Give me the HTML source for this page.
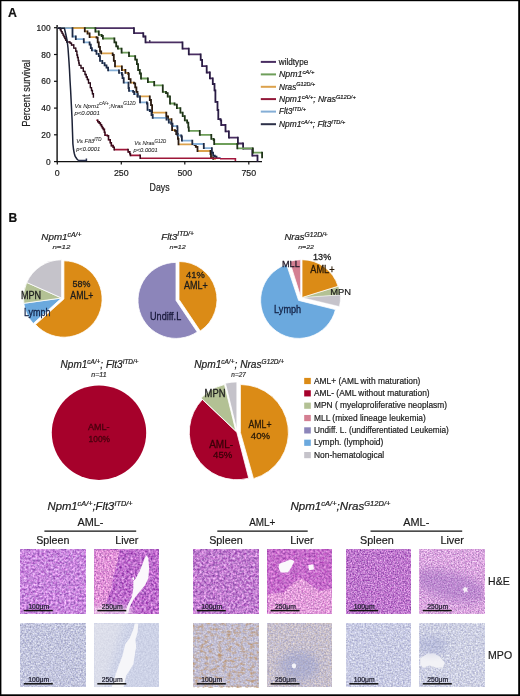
<!DOCTYPE html><html><head><meta charset="utf-8"><style>html,body{margin:0;padding:0;background:#fff;width:520px;height:696px;overflow:hidden}svg{display:block;will-change:transform}</style></head><body><svg width="520" height="696" viewBox="0 0 520 696" font-family="'Liberation Sans', sans-serif"><defs><filter id="f1" x="0" y="0" width="1" height="1" color-interpolation-filters="sRGB"><feTurbulence type="fractalNoise" baseFrequency="0.45" numOctaves="2" seed="11"/><feColorMatrix type="matrix" values="0.67 0.16 0 0 0.37 0.78 -0.08 0 0 0.18 0.51 0.08 0 0 0.57 0 0 0 0 1"/></filter><filter id="f2" x="0" y="0" width="1" height="1" color-interpolation-filters="sRGB"><feTurbulence type="fractalNoise" baseFrequency="0.45" numOctaves="2" seed="12"/><feColorMatrix type="matrix" values="0.67 0.16 0 0 0.33 0.78 -0.08 0 0 0.08 0.51 0.08 0 0 0.51 0 0 0 0 1"/></filter><filter id="f3" x="0" y="0" width="1" height="1" color-interpolation-filters="sRGB"><feTurbulence type="fractalNoise" baseFrequency="0.6" numOctaves="2" seed="13"/><feColorMatrix type="matrix" values="0.63 0.16 0 0 0.48 0.75 -0.08 0 0 0.24 0.47 0.08 0 0 0.57 0 0 0 0 1"/></filter><clipPath id="c4"><polygon points="94.3,549.8 119.5,549.8 117.4,562.3 113.1,576.7 111.6,588.3 107.3,599.8 104.4,613.8 94.3,613.8"/></clipPath><filter id="blur2" x="-50%" y="-50%" width="200%" height="200%"><feGaussianBlur stdDeviation="2"/></filter><clipPath id="ct2"><rect x="94.3" y="549.8" width="64.3" height="64"/></clipPath><filter id="f5" x="0" y="0" width="1" height="1" color-interpolation-filters="sRGB"><feTurbulence type="fractalNoise" baseFrequency="0.45" numOctaves="2" seed="14"/><feColorMatrix type="matrix" values="0.67 0.16 0 0 0.34 0.78 -0.08 0 0 0.14 0.51 0.08 0 0 0.52 0 0 0 0 1"/></filter><filter id="f6" x="0" y="0" width="1" height="1" color-interpolation-filters="sRGB"><feTurbulence type="fractalNoise" baseFrequency="0.45" numOctaves="2" seed="15"/><feColorMatrix type="matrix" values="0.51 0.16 0 0 0.44 0.61 -0.08 0 0 0.16 0.39 0.08 0 0 0.56 0 0 0 0 1"/></filter><filter id="f7" x="0" y="0" width="1" height="1" color-interpolation-filters="sRGB"><feTurbulence type="fractalNoise" baseFrequency="0.6" numOctaves="2" seed="16"/><feColorMatrix type="matrix" values="0.55 0.16 0 0 0.53 0.67 -0.08 0 0 0.32 0.43 0.08 0 0 0.6 0 0 0 0 1"/></filter><clipPath id="c8"><polygon points="267.8,594 283.6,592.6 293.7,582.5 302.4,578.2 309.6,584 319.7,591.2 332.3,588.3 332.3,613.8 267.8,613.8"/></clipPath><filter id="f9" x="0" y="0" width="1" height="1" color-interpolation-filters="sRGB"><feTurbulence type="fractalNoise" baseFrequency="0.7" numOctaves="2" seed="17"/><feColorMatrix type="matrix" values="0.67 0.16 0 0 0.33 0.78 -0.08 0 0 0.12 0.51 0.08 0 0 0.51 0 0 0 0 1"/></filter><filter id="f10" x="0" y="0" width="1" height="1" color-interpolation-filters="sRGB"><feTurbulence type="fractalNoise" baseFrequency="0.7" numOctaves="2" seed="18"/><feColorMatrix type="matrix" values="0.55 0.16 0 0 0.5 0.67 -0.08 0 0 0.36 0.43 0.08 0 0 0.62 0 0 0 0 1"/></filter><filter id="blur3" x="-50%" y="-50%" width="200%" height="200%"><feGaussianBlur stdDeviation="4"/></filter><clipPath id="ct8"><rect x="419.8" y="549.8" width="64.3" height="64"/></clipPath><filter id="f11" x="0" y="0" width="1" height="1" color-interpolation-filters="sRGB"><feTurbulence type="fractalNoise" baseFrequency="0.6" numOctaves="2" seed="21"/><feColorMatrix type="matrix" values="0.49 0.08 0 0 0.48 0.49 0.08 0 0 0.49 0.36 -0.04 0 0 0.71 0 0 0 0 1"/></filter><filter id="f12" x="0" y="0" width="1" height="1" color-interpolation-filters="sRGB"><feTurbulence type="fractalNoise" baseFrequency="0.6" numOctaves="2" seed="22"/><feColorMatrix type="matrix" values="0.17 0 0 0 0.72 0.17 0 0 0 0.74 0.13 0 0 0 0.84 0 0 0 0 1"/></filter><linearGradient id="g4" x1="0" y1="0" x2="1" y2="0.3"><stop offset="0" stop-color="#f2f0f0" stop-opacity="0.45"/><stop offset="0.35" stop-color="#f2f0f0" stop-opacity="0.35"/><stop offset="0.5" stop-color="#f2f0f0" stop-opacity="0"/></linearGradient><filter id="f13" x="0" y="0" width="1" height="1" color-interpolation-filters="sRGB"><feTurbulence type="fractalNoise" baseFrequency="0.6" numOctaves="2" seed="23"/><feColorMatrix type="matrix" values="0.31 0.08 0 0 0.57 0.31 0.08 0 0 0.56 0.24 -0.04 0 0 0.74 0 0 0 0 1"/></filter><filter id="brown5" x="0" y="0" width="1" height="1" color-interpolation-filters="sRGB"><feTurbulence type="fractalNoise" baseFrequency="0.22 0.35" numOctaves="3" seed="41"/><feColorMatrix type="matrix" values="0 0 0 0 0.74  0 0 0 0 0.58  0 0 0 0 0.42  0 2.2 0 0 -0.98"/></filter><filter id="f14" x="0" y="0" width="1" height="1" color-interpolation-filters="sRGB"><feTurbulence type="fractalNoise" baseFrequency="0.6" numOctaves="2" seed="24"/><feColorMatrix type="matrix" values="0.36 0.16 0 0 0.52 0.36 0.08 0 0 0.53 0.28 -0.16 0 0 0.74 0 0 0 0 1"/></filter><clipPath id="ct6b"><rect x="267.6" y="623.4" width="64.3" height="64"/></clipPath><filter id="f15" x="0" y="0" width="1" height="1" color-interpolation-filters="sRGB"><feTurbulence type="fractalNoise" baseFrequency="0.6" numOctaves="2" seed="25"/><feColorMatrix type="matrix" values="0.41 0.08 0 0 0.54 0.41 0.08 0 0 0.55 0.3 -0.04 0 0 0.76 0 0 0 0 1"/></filter><filter id="f16" x="0" y="0" width="1" height="1" color-interpolation-filters="sRGB"><feTurbulence type="fractalNoise" baseFrequency="0.6" numOctaves="2" seed="26"/><feColorMatrix type="matrix" values="0.41 0.08 0 0 0.56 0.41 0.08 0 0 0.57 0.3 -0.04 0 0 0.76 0 0 0 0 1"/></filter><filter id="blur05" x="-20%" y="-20%" width="140%" height="140%"><feGaussianBlur stdDeviation="0.6"/></filter><clipPath id="ct8b"><rect x="419.8" y="623.4" width="64.3" height="64"/></clipPath></defs><text x="8.1" y="16.9" font-size="13" font-weight="bold" fill="#111" stroke="#111" stroke-width="0.2" textLength="8.9" lengthAdjust="spacingAndGlyphs">A</text>
<path d="M57.1 25V161.6H262" fill="none" stroke="#111" stroke-width="1.4"/>
<path d="M54 27.7H57.1" stroke="#111" stroke-width="1.2"/>
<text x="50.6" y="30.8" font-size="8.4" text-anchor="end" fill="#1c1c1c" stroke="#1c1c1c" stroke-width="0.2">100</text>
<path d="M54 54.5H57.1" stroke="#111" stroke-width="1.2"/>
<text x="50.6" y="57.6" font-size="8.4" text-anchor="end" fill="#1c1c1c" stroke="#1c1c1c" stroke-width="0.2">80</text>
<path d="M54 81.3H57.1" stroke="#111" stroke-width="1.2"/>
<text x="50.6" y="84.4" font-size="8.4" text-anchor="end" fill="#1c1c1c" stroke="#1c1c1c" stroke-width="0.2">60</text>
<path d="M54 108.1H57.1" stroke="#111" stroke-width="1.2"/>
<text x="50.6" y="111.2" font-size="8.4" text-anchor="end" fill="#1c1c1c" stroke="#1c1c1c" stroke-width="0.2">40</text>
<path d="M54 134.8H57.1" stroke="#111" stroke-width="1.2"/>
<text x="50.6" y="137.9" font-size="8.4" text-anchor="end" fill="#1c1c1c" stroke="#1c1c1c" stroke-width="0.2">20</text>
<path d="M54 161.6H57.1" stroke="#111" stroke-width="1.2"/>
<text x="50.6" y="164.7" font-size="8.4" text-anchor="end" fill="#1c1c1c" stroke="#1c1c1c" stroke-width="0.2">0</text>
<path d="M57.3 161.6V164.6" stroke="#111" stroke-width="1.2"/>
<text x="57.3" y="175.8" font-size="8.8" text-anchor="middle" fill="#1c1c1c" stroke="#1c1c1c" stroke-width="0.2">0</text>
<path d="M121.3 161.6V164.6" stroke="#111" stroke-width="1.2"/>
<text x="121.3" y="175.8" font-size="8.8" text-anchor="middle" fill="#1c1c1c" stroke="#1c1c1c" stroke-width="0.2">250</text>
<path d="M184.8 161.6V164.6" stroke="#111" stroke-width="1.2"/>
<text x="184.8" y="175.8" font-size="8.8" text-anchor="middle" fill="#1c1c1c" stroke="#1c1c1c" stroke-width="0.2">500</text>
<path d="M248.8 161.6V164.6" stroke="#111" stroke-width="1.2"/>
<text x="248.8" y="175.8" font-size="8.8" text-anchor="middle" fill="#1c1c1c" stroke="#1c1c1c" stroke-width="0.2">750</text>
<text x="149.6" y="190.9" font-size="10.8" fill="#1c1c1c" stroke="#1c1c1c" stroke-width="0.2" textLength="20" lengthAdjust="spacingAndGlyphs">Days</text>
<text x="0" y="0" font-size="10.6" fill="#1c1c1c" stroke="#1c1c1c" stroke-width="0.2" textLength="67" lengthAdjust="spacingAndGlyphs" transform="translate(30.4 126.8) rotate(-90)">Percent survival</text>
<path d="M57.3 28.2H134M134 33.1H143.3M143.3 36.5H145.5M145.5 42.3H182.5M182.5 48.6H188.8M188.8 54.4H200.7M200.7 59.8H202.1M202.1 66.2H206.7M206.7 72.5H209.9M209.9 78.3H212.8M212.8 84H214.5M214.5 90.4H215.4M215.4 101.9H217.5M217.5 110H218.3M218.3 119.2H220.6M220.6 120.4H221.2M221.2 125H225.5M225.5 131.3H228.9M228.9 137.7H237.9M237.9 143.5H243.1M243.1 148.7H252.3M252.3 155.6H257.5M257.5 160.8" fill="none" stroke="#4a2e62" stroke-width="1.8"/>
<path d="M134 28.2V33.1M143.3 33.1V36.5M145.5 36.5V42.3M182.5 42.3V48.6M188.8 48.6V54.4M200.7 54.4V59.8M202.1 59.8V66.2M206.7 66.2V72.5M209.9 72.5V78.3M212.8 78.3V84M214.5 84V90.4M215.4 90.4V101.9M217.5 101.9V110M218.3 110V119.2M220.6 119.2V120.4M221.2 120.4V125M225.5 125V131.3M228.9 131.3V137.7M237.9 137.7V143.5M243.1 143.5V148.7M252.3 148.7V155.6M257.5 155.6V160.8" fill="none" stroke="#2a1c44" stroke-width="1.8" stroke-linecap="square"/>
<path d="M149.8 40V42.3" stroke="#2a1c44" stroke-width="1.2"/>
<path d="M57.3 28.2H95.4M95.4 31.5H98.8M98.8 34.8H101.7M101.7 36H102.9M102.9 38.5H114.4M114.4 42.3H116.2M116.2 46.3H117.9M117.9 48.7H121.6M121.6 52.7H129M129 56.2H135.2M135.2 59.6H136.9M136.9 64.2H138.1M138.1 70H139.8M139.8 73.5H141M141 78.5H147.9M147.9 82H154.2M154.2 85.4H162.8M162.8 91.9H166M166 93.1H167.7M167.7 96.5H170M170 103.5H174.6M174.6 104.6H176.9M176.9 108.1H180.4M180.4 112.7H182.7M182.7 116.2H184.8M184.8 120.4H187.1M187.1 122.7H188.3M188.3 127.3H188.8M188.8 130.8H199.8M199.8 134.8H211.3M211.3 138.8H213.7M213.7 140H214.2M214.2 144H237.3M237.3 148.4H252.9M252.9 152.7H262.1M262.1 157.3" fill="none" stroke="#6e9e5a" stroke-width="1.8"/>
<path d="M95.4 28.2V31.5M98.8 31.5V34.8M101.7 34.8V36M102.9 36V38.5M114.4 38.5V42.3M116.2 42.3V46.3M117.9 46.3V48.7M121.6 48.7V52.7M129 52.7V56.2M135.2 56.2V59.6M136.9 59.6V64.2M138.1 64.2V70M139.8 70V73.5M141 73.5V78.5M147.9 78.5V82M154.2 82V85.4M162.8 85.4V91.9M166 91.9V93.1M167.7 93.1V96.5M170 96.5V103.5M174.6 103.5V104.6M176.9 104.6V108.1M180.4 108.1V112.7M182.7 112.7V116.2M184.8 116.2V120.4M187.1 120.4V122.7M188.3 122.7V127.3M188.8 127.3V130.8M199.8 130.8V134.8M211.3 134.8V138.8M213.7 138.8V140M214.2 140V144M237.3 144V148.4M252.9 148.4V152.7M262.1 152.7V157.3" fill="none" stroke="#1f3318" stroke-width="1.8" stroke-linecap="square"/>
<path d="M57.3 28.2H84.8M84.8 31.3H87.5M87.5 33.5H89.6M89.6 37.1H96.5M96.5 37.7H97.7M97.7 42.3H98.8M98.8 46.9H100M100 51.5H101.2M101.2 53.3H112.7M112.7 55H113.8M113.8 60.8H115M115 66.3H121.9M121.9 70H125.4M125.4 72.9H128.3M128.3 74H128.8M128.8 79.2H130.6M130.6 82.7H134M134 83.3H135.2M135.2 87.3H136.4M136.4 91.9H137.5M137.5 96.3H149.8M149.8 100H151M151 105.2H152.1M152.1 112.7H166.3M166.3 116.3H168.1M168.1 119.2H171.5M171.5 123.8H172.1M172.1 130.2H175M175 130.8H176.2M176.2 134.2H177.9M177.9 138.8H178.5M178.5 144.4H194.6M194.6 145.2H195.8M195.8 146.9H197.5M197.5 151H210.5M210.5 154H211M211 157.3H213.2M213.2 158.8H216" fill="none" stroke="#dca24c" stroke-width="1.8"/>
<path d="M84.8 28.2V31.3M87.5 31.3V33.5M89.6 33.5V37.1M96.5 37.1V37.7M97.7 37.7V42.3M98.8 42.3V46.9M100 46.9V51.5M101.2 51.5V53.3M112.7 53.3V55M113.8 55V60.8M115 60.8V66.3M121.9 66.3V70M125.4 70V72.9M128.3 72.9V74M128.8 74V79.2M130.6 79.2V82.7M134 82.7V83.3M135.2 83.3V87.3M136.4 87.3V91.9M137.5 91.9V96.3M149.8 96.3V100M151 100V105.2M152.1 105.2V112.7M166.3 112.7V116.3M168.1 116.3V119.2M171.5 119.2V123.8M172.1 123.8V130.2M175 130.2V130.8M176.2 130.8V134.2M177.9 134.2V138.8M178.5 138.8V144.4M194.6 144.4V145.2M195.8 145.2V146.9M197.5 146.9V151M210.5 151V154M211 154V157.3M213.2 157.3V158.8" fill="none" stroke="#2a1a10" stroke-width="1.8" stroke-linecap="square"/>
<path d="M57.3 28.2H72.5M72.5 36.5H75.8M75.8 39.2H83.8M83.8 42.3H89.6M89.6 44.6H90.8M90.8 48.1H91.9M91.9 50.4H95.4M95.4 51H96.5M96.5 53.8H98.8M98.8 56.2H100M100 60.8H102.3M102.3 63.1H104.6M104.6 65.4H106.5M106.5 67.7H108.1M108.1 70.4H119M119 72.9H121.9M121.9 74.6H122.5M122.5 78.1H123.7M123.7 82.7H128.5M128.5 88H129M129 90.8H133.1M133.1 91.9H134.2M134.2 94.2H137.7M137.7 96.5H140M140 102.3H146.9M146.9 103.5H147.5M147.5 109.8H149.8M149.8 111H151.5M151.5 115H152.7M152.7 117.9H166.5M166.5 119.6H168.8M168.8 122.5H171.2M171.2 123.7H172.5M172.5 126.2H177.3M177.3 127.3H177.5M177.5 135.4H181.3M181.3 136.5H181.9M181.9 140.6H192.3M192.3 144H203.8M203.8 148.1H211.9M211.9 152.7H213.1M213.1 155.6H214.8M214.8 156.7H216.5M216.5 157.9H221" fill="none" stroke="#84aed6" stroke-width="1.8"/>
<path d="M72.5 28.2V36.5M75.8 36.5V39.2M83.8 39.2V42.3M89.6 42.3V44.6M90.8 44.6V48.1M91.9 48.1V50.4M95.4 50.4V51M96.5 51V53.8M98.8 53.8V56.2M100 56.2V60.8M102.3 60.8V63.1M104.6 63.1V65.4M106.5 65.4V67.7M108.1 67.7V70.4M119 70.4V72.9M121.9 72.9V74.6M122.5 74.6V78.1M123.7 78.1V82.7M128.5 82.7V88M129 88V90.8M133.1 90.8V91.9M134.2 91.9V94.2M137.7 94.2V96.5M140 96.5V102.3M146.9 102.3V103.5M147.5 103.5V109.8M149.8 109.8V111M151.5 111V115M152.7 115V117.9M166.5 117.9V119.6M168.8 119.6V122.5M171.2 122.5V123.7M172.5 123.7V126.2M177.3 126.2V127.3M177.5 127.3V135.4M181.3 135.4V136.5M181.9 136.5V140.6M192.3 140.6V144M203.8 144V148.1M211.9 148.1V152.7M213.1 152.7V155.6M214.8 155.6V156.7M216.5 156.7V157.9" fill="none" stroke="#1e2a44" stroke-width="1.8" stroke-linecap="square"/>
<path d="M57.3 28.2H60.23M60.23 29.92H61.16M61.16 31.64H62.09M62.09 33.36H63.02M63.02 35.08H63.95M63.95 36.8H64.88M64.88 38.52H65.81M65.81 40.24H66.74M66.74 41.96H70M70 43.1H71.5M71.5 45H73.8M73.8 48.1H75.8M75.8 51.2H76.9M76.9 55H77.5M77.5 57.5H78.2M78.2 60.5H78.8M78.8 63H79.2M79.2 65.4H81M81 68H83.3M83.3 71.4H85M85 74.5H86.2M86.2 77H87.3M87.3 79.5H88.5M88.5 83H90.3M90.3 87.6H91.5M91.5 90.5H92.4M92.4 93.7H93.4M93.4 97.1" fill="none" stroke="#3a0f22" stroke-width="1.4"/>
<path d="M60.23 28.2V29.92M61.16 29.92V31.64M62.09 31.64V33.36M63.02 33.36V35.08M63.95 35.08V36.8M64.88 36.8V38.52M65.81 38.52V40.24M66.74 40.24V41.96M70 41.96V43.1M71.5 43.1V45M73.8 45V48.1M75.8 48.1V51.2M76.9 51.2V55M77.5 55V57.5M78.2 57.5V60.5M78.8 60.5V63M79.2 63V65.4M81 65.4V68M83.3 68V71.4M85 71.4V74.5M86.2 74.5V77M87.3 77V79.5M88.5 79.5V83M90.3 83V87.6M91.5 87.6V90.5M92.4 90.5V93.7M93.4 93.7V97.1" fill="none" stroke="#2a0a18" stroke-width="1.4" stroke-linecap="square"/>
<path d="M96.3 120.2H97.8M97.8 121.7H99.2M99.2 123.1H100.4M100.4 124.8H101.5M101.5 126.5H102.4M102.4 128H103.3M103.3 129.4H104.4M104.4 132.3H105M105 135.2H107.3M107.3 135.8H108.5M108.5 139.8H110.2M110.2 142.7H111.3M111.3 145.6H113.1M113.1 147.3H114.2M114.2 149.6H128.1M128.1 151.9H129.8M129.8 153.7H130.4M130.4 155.4H140.2M140.2 158.3H220" fill="none" stroke="#9e1638" stroke-width="1.6"/>
<path d="M97.8 120.2V121.7M99.2 121.7V123.1M100.4 123.1V124.8M101.5 124.8V126.5M102.4 126.5V128M103.3 128V129.4M104.4 129.4V132.3M105 132.3V135.2M107.3 135.2V135.8M108.5 135.8V139.8M110.2 139.8V142.7M111.3 142.7V145.6M113.1 145.6V147.3M114.2 147.3V149.6M128.1 149.6V151.9M129.8 151.9V153.7M130.4 153.7V155.4M140.2 155.4V158.3" fill="none" stroke="#3a0a1a" stroke-width="1.6" stroke-linecap="square"/>
<path d="M220 158.8H235.4V161" fill="none" stroke="#a3163c" stroke-width="1.6"/>
<polyline points="57.3,28.2 64.4,28.2 65.5,33 66.6,38 67.4,43 68,48 68.5,55 69,62 69.5,70 70,80 70.6,90 71.1,100 71.6,110 72.1,120 72.5,132 72.9,144 73.6,150 74.3,153.5 75.2,156.5 76.6,158.5 78,160.2" fill="none" stroke="#1c2236" stroke-width="1.5"/>
<path d="M78 160.4H86.4M86.4 158.6V161" fill="none" stroke="#2b3352" stroke-width="1.5"/>
<text x="74.4" y="108" font-size="6.2" font-style="italic" fill="#262626" stroke="#262626" stroke-width="0.08" textLength="61.2" lengthAdjust="spacingAndGlyphs">Vs Npm1<tspan dy="-2.6" font-size="4.8">cA/+</tspan><tspan dy="2.6">;Nras</tspan><tspan dy="-2.6" font-size="4.8">G12D</tspan></text>
<text x="74.4" y="115" font-size="6.2" font-style="italic" fill="#262626" stroke="#262626" stroke-width="0.08" textLength="25.4" lengthAdjust="spacingAndGlyphs">p&lt;0.0001</text>
<text x="76.2" y="143.4" font-size="6.2" font-style="italic" fill="#262626" stroke="#262626" stroke-width="0.08" textLength="25.4" lengthAdjust="spacingAndGlyphs">Vs Flt3<tspan dy="-2.6" font-size="4.8">ITD</tspan></text>
<text x="76.2" y="150.7" font-size="6.2" font-style="italic" fill="#262626" stroke="#262626" stroke-width="0.08" textLength="23.9" lengthAdjust="spacingAndGlyphs">p&lt;0.0001</text>
<text x="134.2" y="145.4" font-size="6.2" font-style="italic" fill="#262626" stroke="#262626" stroke-width="0.08" textLength="32" lengthAdjust="spacingAndGlyphs">Vs Nras<tspan dy="-2.6" font-size="4.8">G12D</tspan></text>
<text x="133.5" y="151.5" font-size="6.2" font-style="italic" fill="#262626" stroke="#262626" stroke-width="0.08" textLength="24.2" lengthAdjust="spacingAndGlyphs">p&lt;0.0001</text>
<path d="M260.8 61.9H276" stroke="#4a2e62" stroke-width="2"/>
<text x="278.8" y="64.7" font-size="8.3" fill="#1c1c1c" stroke="#1c1c1c" stroke-width="0.2" textLength="29.4" lengthAdjust="spacingAndGlyphs">wildtype</text>
<path d="M260.8 74.4H276" stroke="#6e9e5a" stroke-width="2"/>
<text x="279" y="77.2" font-size="8.3" font-style="italic" fill="#1c1c1c" stroke="#1c1c1c" stroke-width="0.2" textLength="35.4" lengthAdjust="spacingAndGlyphs">Npm1<tspan dy="-3.4" font-size="5.6">cA/+</tspan></text>
<path d="M260.8 86.8H276" stroke="#dca24c" stroke-width="2"/>
<text x="279" y="89.6" font-size="8.3" font-style="italic" fill="#1c1c1c" stroke="#1c1c1c" stroke-width="0.2" textLength="36.3" lengthAdjust="spacingAndGlyphs">Nras<tspan dy="-3.4" font-size="5.6">G12D/+</tspan></text>
<path d="M260.8 99.1H276" stroke="#921838" stroke-width="2"/>
<text x="279" y="101.9" font-size="8.3" font-style="italic" fill="#1c1c1c" stroke="#1c1c1c" stroke-width="0.2" textLength="76.8" lengthAdjust="spacingAndGlyphs">Npm1<tspan dy="-3.4" font-size="5.6">cA/+</tspan><tspan dy="3.4">; Nras</tspan><tspan dy="-3.4" font-size="5.6">G12D/+</tspan></text>
<path d="M260.8 111.6H276" stroke="#84aed6" stroke-width="2"/>
<text x="279" y="114.4" font-size="8.3" font-style="italic" fill="#1c1c1c" stroke="#1c1c1c" stroke-width="0.2" textLength="26.9" lengthAdjust="spacingAndGlyphs">Flt3<tspan dy="-3.4" font-size="5.6">ITD/+</tspan></text>
<path d="M260.8 124.2H276" stroke="#2c3048" stroke-width="2"/>
<text x="279" y="127" font-size="8.3" font-style="italic" fill="#1c1c1c" stroke="#1c1c1c" stroke-width="0.2" textLength="66.3" lengthAdjust="spacingAndGlyphs">Npm1<tspan dy="-3.4" font-size="5.6">cA/+</tspan><tspan dy="3.4">; Flt3</tspan><tspan dy="-3.4" font-size="5.6">ITD/+</tspan></text>
<text x="8.4" y="221.8" font-size="13.2" font-weight="bold" fill="#111" stroke="#111" stroke-width="0.2" textLength="8.7" lengthAdjust="spacingAndGlyphs">B</text>
<text x="61.4" y="240.2" font-size="9" text-anchor="middle" font-style="italic" fill="#1c1c1c" stroke="#1c1c1c" stroke-width="0.2" textLength="40.1" lengthAdjust="spacingAndGlyphs">Npm1<tspan dy="-3.4" font-size="6.3">cA/+</tspan></text>
<text x="61.4" y="248.7" font-size="6.2" text-anchor="middle" font-style="italic" fill="#333" stroke="#333" stroke-width="0.2" textLength="18" lengthAdjust="spacingAndGlyphs">n=12</text>
<text x="177.6" y="239.7" font-size="9" text-anchor="middle" font-style="italic" fill="#1c1c1c" stroke="#1c1c1c" stroke-width="0.2" textLength="32.6" lengthAdjust="spacingAndGlyphs">Flt3<tspan dy="-3.4" font-size="6.3">ITD/+</tspan></text>
<text x="177.6" y="248.6" font-size="6.2" text-anchor="middle" font-style="italic" fill="#333" stroke="#333" stroke-width="0.2" textLength="16.2" lengthAdjust="spacingAndGlyphs">n=12</text>
<text x="306.1" y="240" font-size="9" text-anchor="middle" font-style="italic" fill="#1c1c1c" stroke="#1c1c1c" stroke-width="0.2" textLength="43.4" lengthAdjust="spacingAndGlyphs">Nras<tspan dy="-3.4" font-size="6.3">G12D/+</tspan></text>
<text x="306.1" y="248.8" font-size="6.2" text-anchor="middle" font-style="italic" fill="#333" stroke="#333" stroke-width="0.2" textLength="15.8" lengthAdjust="spacingAndGlyphs">n=22</text>
<path d="M61.6 298L33.21 323.56A38.2 38.2 0 0 1 23.77 303.32Z" fill="#6ba9de" stroke="#fff" stroke-width="0.8"/>
<path d="M61.6 298L23.77 303.32A38.2 38.2 0 0 1 26.7 282.46Z" fill="#b3c194" stroke="#fff" stroke-width="0.8"/>
<path d="M61.6 298L26.7 282.46A38.2 38.2 0 0 1 61.6 259.8Z" fill="#c5c3ca" stroke="#fff" stroke-width="0.8"/>
<path d="M63.9 299L63.9 260.8A38.2 38.2 0 1 1 35.51 324.56Z" fill="#db8b16" stroke="#fff" stroke-width="0.8"/>
<text x="72.6" y="287.3" font-size="9.4" fill="#1c1c1c" stroke="#1c1c1c" stroke-width="0.3" textLength="17.9" lengthAdjust="spacingAndGlyphs">58%</text>
<text x="70.3" y="298.8" font-size="10" fill="#1c1c1c" stroke="#1c1c1c" stroke-width="0.3" textLength="23.1" lengthAdjust="spacingAndGlyphs">AML+</text>
<text x="20.9" y="298.9" font-size="10" fill="#1c1c1c" stroke="#1c1c1c" stroke-width="0.3" textLength="20.2" lengthAdjust="spacingAndGlyphs">MPN</text>
<text x="23.9" y="316.4" font-size="10" fill="#142448" stroke="#142448" stroke-width="0.3" textLength="26.6" lengthAdjust="spacingAndGlyphs">Lymph</text>
<path d="M176 300.4L197.25 331.9A38 38 0 1 1 176 262.4Z" fill="#8c85ba" stroke="#fff" stroke-width="0.8"/>
<path d="M179 299.5L179 261.5A38 38 0 0 1 200.25 331Z" fill="#db8b16" stroke="#fff" stroke-width="0.8"/>
<text x="186.1" y="277.8" font-size="9.4" fill="#1c1c1c" stroke="#1c1c1c" stroke-width="0.3" textLength="18.7" lengthAdjust="spacingAndGlyphs">41%</text>
<text x="184" y="289.3" font-size="10" fill="#1c1c1c" stroke="#1c1c1c" stroke-width="0.3" textLength="23.7" lengthAdjust="spacingAndGlyphs">AML+</text>
<text x="150" y="319.6" font-size="10.2" fill="#1a1a3c" stroke="#1a1a3c" stroke-width="0.3" textLength="31.2" lengthAdjust="spacingAndGlyphs">Undiff.L</text>
<path d="M298.6 300.4L335.47 309.59A38 38 0 1 1 286.54 264.36Z" fill="#6ba9de" stroke="#fff" stroke-width="0.8"/>
<path d="M300.7 296.7L289.57 261.41A37 37 0 0 1 300.7 259.7Z" fill="#d47f92" stroke="#fff" stroke-width="0.8"/>
<path d="M302 297.5L340.31 294.82A38.4 38.4 0 0 1 339.34 306.46Z" fill="#c5c3ca" stroke="#fff" stroke-width="0.4"/>
<path d="M302 297.5L338.47 286.14A38.2 38.2 0 0 1 340.11 294.84Z" fill="#b3c194" stroke="#fff" stroke-width="0.4"/>
<path d="M302 297.5L302 259.7A37.8 37.8 0 0 1 338.09 286.26Z" fill="#db8b16" stroke="#fff" stroke-width="0.8"/>
<text x="313.1" y="259.7" font-size="9.4" fill="#1c1c1c" stroke="#1c1c1c" stroke-width="0.3" textLength="18.1" lengthAdjust="spacingAndGlyphs">13%</text>
<text x="310.3" y="273.1" font-size="10" fill="#2a1a08" stroke="#2a1a08" stroke-width="0.3" textLength="24.3" lengthAdjust="spacingAndGlyphs">AML+</text>
<text x="282" y="266.8" font-size="9.2" fill="#221828" stroke="#221828" stroke-width="0.3" textLength="17.8" lengthAdjust="spacingAndGlyphs">MLL</text>
<text x="330.3" y="294.6" font-size="9.3" fill="#1c1c1c" stroke="#1c1c1c" stroke-width="0.2" textLength="20.8" lengthAdjust="spacingAndGlyphs">MPN</text>
<text x="274.1" y="312.5" font-size="10" fill="#142448" stroke="#142448" stroke-width="0.3" textLength="27.1" lengthAdjust="spacingAndGlyphs">Lymph</text>
<text x="60.6" y="368.3" font-size="10.3" font-style="italic" fill="#1c1c1c" stroke="#1c1c1c" stroke-width="0.2" textLength="77.9" lengthAdjust="spacingAndGlyphs">Npm1<tspan dy="-4.4" font-size="6.6">cA/+</tspan><tspan dy="4.4">; Flt3</tspan><tspan dy="-4.4" font-size="6.6">ITD/+</tspan></text>
<text x="91.3" y="377" font-size="6.6" font-style="italic" fill="#333" stroke="#333" stroke-width="0.2" textLength="15.4" lengthAdjust="spacingAndGlyphs">n=11</text>
<text x="194.2" y="368.3" font-size="10.3" font-style="italic" fill="#1c1c1c" stroke="#1c1c1c" stroke-width="0.2" textLength="90" lengthAdjust="spacingAndGlyphs">Npm1<tspan dy="-4.4" font-size="6.6">cA/+</tspan><tspan dy="4.4">; Nras</tspan><tspan dy="-4.4" font-size="6.6">G12D/+</tspan></text>
<text x="231.3" y="376.6" font-size="6.6" font-style="italic" fill="#333" stroke="#333" stroke-width="0.2" textLength="14.5" lengthAdjust="spacingAndGlyphs">n=27</text>
<path d="M51.8 432.7A47.2 47.2 0 1 1 146.2 432.7A47.2 47.2 0 1 1 51.8 432.7Z" fill="#a6012b" stroke="none" stroke-width="0.8"/>
<text x="88" y="430.4" font-size="9.6" fill="#4a000e" stroke="#4a000e" stroke-width="0.35" textLength="21.6" lengthAdjust="spacingAndGlyphs">AML-</text>
<text x="88.6" y="441.8" font-size="9.4" fill="#4a000e" stroke="#4a000e" stroke-width="0.35" textLength="21.4" lengthAdjust="spacingAndGlyphs">100%</text>
<path d="M236.8 432.2L248.69 478.19A47.5 47.5 0 0 1 202.34 399.5Z" fill="#a6012b" stroke="#fff" stroke-width="0.8"/>
<path d="M235.8 431L201.13 398.1A47.8 47.8 0 0 1 224.48 384.56Z" fill="#b3c194" stroke="#fff" stroke-width="0.8"/>
<path d="M236.9 430.4L225.41 383.28A48.5 48.5 0 0 1 236.9 381.9Z" fill="#c5c3ca" stroke="#fff" stroke-width="0.8"/>
<path d="M240.4 432.5L240.4 384.5A48 48 0 0 1 253.47 478.69Z" fill="#db8b16" stroke="#fff" stroke-width="0.8"/>
<text x="204.6" y="396.6" font-size="10" fill="#1c1c1c" stroke="#1c1c1c" stroke-width="0.3" textLength="20.8" lengthAdjust="spacingAndGlyphs">MPN</text>
<text x="248.5" y="428" font-size="10" fill="#2a1a08" stroke="#2a1a08" stroke-width="0.3" textLength="23" lengthAdjust="spacingAndGlyphs">AML+</text>
<text x="250.8" y="438.7" font-size="9.6" fill="#2a1a08" stroke="#2a1a08" stroke-width="0.3" textLength="19.2" lengthAdjust="spacingAndGlyphs">40%</text>
<text x="209.2" y="448" font-size="10" fill="#3a0008" stroke="#3a0008" stroke-width="0.3" textLength="23.9" lengthAdjust="spacingAndGlyphs">AML-</text>
<text x="213.1" y="458.2" font-size="9.6" fill="#3a0008" stroke="#3a0008" stroke-width="0.3" textLength="19.2" lengthAdjust="spacingAndGlyphs">45%</text>
<rect x="304.2" y="377.9" width="6.6" height="6.2" fill="#db8b16"/>
<text x="314" y="383.5" font-size="8.6" fill="#1c1c1c" stroke="#1c1c1c" stroke-width="0.2" textLength="106.4" lengthAdjust="spacingAndGlyphs">AML+ (AML with maturation)</text>
<rect x="304.2" y="390.25" width="6.6" height="6.2" fill="#a6012b"/>
<text x="314" y="395.85" font-size="8.6" fill="#1c1c1c" stroke="#1c1c1c" stroke-width="0.2" textLength="115.6" lengthAdjust="spacingAndGlyphs">AML- (AML without maturation)</text>
<rect x="304.2" y="402.6" width="6.6" height="6.2" fill="#b3c194"/>
<text x="314" y="408.2" font-size="8.6" fill="#1c1c1c" stroke="#1c1c1c" stroke-width="0.2" textLength="133" lengthAdjust="spacingAndGlyphs">MPN ( myeloproliferative neoplasm)</text>
<rect x="304.2" y="414.95" width="6.6" height="6.2" fill="#d47f92"/>
<text x="314" y="420.55" font-size="8.6" fill="#1c1c1c" stroke="#1c1c1c" stroke-width="0.2" textLength="111.8" lengthAdjust="spacingAndGlyphs">MLL (mixed lineage leukemia)</text>
<rect x="304.2" y="427.3" width="6.6" height="6.2" fill="#8c85ba"/>
<text x="314" y="432.9" font-size="8.6" fill="#1c1c1c" stroke="#1c1c1c" stroke-width="0.2" textLength="134.8" lengthAdjust="spacingAndGlyphs">Undiff. L. (undifferentiated Leukemia)</text>
<rect x="304.2" y="439.65" width="6.6" height="6.2" fill="#6ba9de"/>
<text x="314" y="445.25" font-size="8.6" fill="#1c1c1c" stroke="#1c1c1c" stroke-width="0.2" textLength="69.3" lengthAdjust="spacingAndGlyphs">Lymph. (lymphoid)</text>
<rect x="304.2" y="452" width="6.6" height="6.2" fill="#c5c3ca"/>
<text x="314" y="457.6" font-size="8.6" fill="#1c1c1c" stroke="#1c1c1c" stroke-width="0.2" textLength="70.2" lengthAdjust="spacingAndGlyphs">Non-hematological</text>
<text x="90" y="510.4" font-size="10.8" text-anchor="middle" font-style="italic" fill="#1c1c1c" stroke="#1c1c1c" stroke-width="0.2" textLength="85" lengthAdjust="spacingAndGlyphs">Npm1<tspan dy="-4.3" font-size="7">cA/+</tspan><tspan dy="4.3">;Flt3</tspan><tspan dy="-4.3" font-size="7">ITD/+</tspan></text>
<text x="340.4" y="510.4" font-size="10.8" text-anchor="middle" font-style="italic" fill="#1c1c1c" stroke="#1c1c1c" stroke-width="0.2" textLength="100" lengthAdjust="spacingAndGlyphs">Npm1<tspan dy="-4.3" font-size="7">cA/+</tspan><tspan dy="4.3">;Nras</tspan><tspan dy="-4.3" font-size="7">G12D/+</tspan></text>
<text x="90.5" y="525.7" font-size="10.9" text-anchor="middle" fill="#1c1c1c" stroke="#1c1c1c" stroke-width="0.2" textLength="26" lengthAdjust="spacingAndGlyphs">AML-</text>
<path d="M44.4 531.1H136.2" stroke="#111" stroke-width="1.2"/>
<text x="262.3" y="525.7" font-size="10.9" text-anchor="middle" fill="#1c1c1c" stroke="#1c1c1c" stroke-width="0.2" textLength="26.2" lengthAdjust="spacingAndGlyphs">AML+</text>
<path d="M217.3 531.1H307.7" stroke="#111" stroke-width="1.2"/>
<text x="416.3" y="525.7" font-size="10.9" text-anchor="middle" fill="#1c1c1c" stroke="#1c1c1c" stroke-width="0.2" textLength="26" lengthAdjust="spacingAndGlyphs">AML-</text>
<path d="M370.5 531.1H462.2" stroke="#111" stroke-width="1.2"/>
<text x="36.2" y="543.8" font-size="10.5" fill="#1c1c1c" stroke="#1c1c1c" stroke-width="0.2" textLength="33.2" lengthAdjust="spacingAndGlyphs">Spleen</text>
<text x="115.2" y="543.8" font-size="10.5" fill="#1c1c1c" stroke="#1c1c1c" stroke-width="0.2" textLength="23.2" lengthAdjust="spacingAndGlyphs">Liver</text>
<text x="209.2" y="543.8" font-size="10.5" fill="#1c1c1c" stroke="#1c1c1c" stroke-width="0.2" textLength="33.5" lengthAdjust="spacingAndGlyphs">Spleen</text>
<text x="290.2" y="543.8" font-size="10.5" fill="#1c1c1c" stroke="#1c1c1c" stroke-width="0.2" textLength="23.3" lengthAdjust="spacingAndGlyphs">Liver</text>
<text x="360" y="543.8" font-size="10.5" fill="#1c1c1c" stroke="#1c1c1c" stroke-width="0.2" textLength="33.7" lengthAdjust="spacingAndGlyphs">Spleen</text>
<text x="440.4" y="543.8" font-size="10.5" fill="#1c1c1c" stroke="#1c1c1c" stroke-width="0.2" textLength="23.5" lengthAdjust="spacingAndGlyphs">Liver</text>
<text x="488.1" y="585.4" font-size="10.6" fill="#1c1c1c" stroke="#1c1c1c" stroke-width="0.2" textLength="21.6" lengthAdjust="spacingAndGlyphs">H&amp;E</text>
<text x="488.1" y="658.6" font-size="10.6" fill="#1c1c1c" stroke="#1c1c1c" stroke-width="0.2" textLength="24" lengthAdjust="spacingAndGlyphs">MPO</text>
<rect x="20.8" y="549.8" width="64.3" height="64" filter="url(#f1)"/>
<rect x="94.3" y="549.8" width="64.3" height="64" filter="url(#f2)"/>
<g clip-path="url(#c4)"><rect x="94.3" y="549.8" width="64.3" height="64" filter="url(#f3)"/></g>
<polygon points="147,555.6 148.4,558.7 149.1,568 148.4,578.2 144.8,585.4 139,592.6 133.3,599.8 129.7,607 128.2,613.8 124.6,613.8 127.5,605.6 131.8,596.9 133.3,588.3 133.3,581.1 135.4,578.9 139.8,571 142.6,563.8 144.8,558 146.3,555.8" fill="#fbf8fc"/>
<ellipse cx="133.3" cy="578.6" rx="0.9" ry="1.6" fill="#fbf8fc"/>
<g clip-path="url(#ct2)"><ellipse cx="112" cy="612" rx="22" ry="7" fill="#f6e4f6" opacity="0.6" filter="url(#blur2)"/></g>
<rect x="193.8" y="549.8" width="64.3" height="64" filter="url(#f5)"/>
<rect x="267.6" y="549.8" width="64.3" height="64" filter="url(#f6)"/>
<g clip-path="url(#c8)"><rect x="267.6" y="549.8" width="64.3" height="64" filter="url(#f7)"/></g>
<polygon points="279.3,563.8 290.8,559.4 294.5,560.9 291.5,567 288,572.4 280.7,572.4 278.6,568" fill="#fbf8fc"/>
<polygon points="308.2,565 313.5,564.5 314,569.5 309,570.2" fill="#fbf8fc"/>
<rect x="346.3" y="549.8" width="64.3" height="64" filter="url(#f9)"/>
<rect x="419.8" y="549.8" width="64.3" height="64" filter="url(#f10)"/>
<g clip-path="url(#ct8)"><ellipse cx="450" cy="586" rx="38" ry="14" transform="rotate(15 450 586)" fill="#8050b0" opacity="0.32" filter="url(#blur3)"/></g>
<polygon points="464.5,586.5 466.2,587.8 468,587.5 467,589.8 468.2,592 465.8,591.5 464,593 463.8,590.5 462.2,589 464,588.2" fill="#f6eef8"/>
<rect x="20.8" y="623.2" width="64.3" height="63.6" filter="url(#f11)"/>
<rect x="94.3" y="623.2" width="64.3" height="63.6" filter="url(#f12)"/>
<rect x="94.3" y="623.4" width="64.3" height="64" fill="url(#g4)"/>
<polygon points="138.3,623.6 137.6,632.4 135.4,639.6 136.2,646.8 134.7,655.5 133.3,664.2 128.9,671.4 126.1,675.7 123.5,687.4 111.6,687.4 115.2,675.7 118.8,665.6 122.5,655.5 125.3,644 129.7,638.2 133.3,629.5 134.7,623.6" fill="#f6f6f9"/>
<rect x="193.8" y="623.2" width="64.3" height="63.6" filter="url(#f13)"/>
<rect x="193.8" y="623.4" width="64.3" height="64" filter="url(#brown5)"/>
<rect x="267.6" y="623.2" width="64.3" height="63.6" filter="url(#f14)"/>
<g clip-path="url(#ct6b)"><ellipse cx="299" cy="666" rx="20" ry="15" fill="#8a96d0" opacity="0.4" filter="url(#blur3)"/></g>
<ellipse cx="294" cy="665.8" rx="2.2" ry="2.6" fill="#f4f4fa"/>
<rect x="346.3" y="623.2" width="64.3" height="63.6" filter="url(#f15)"/>
<rect x="419.8" y="623.2" width="64.3" height="63.6" filter="url(#f16)"/>
<polygon points="420.2,658.4 426.5,654 433.8,653.3 440.2,657 444.6,662.7 443.1,667.8 436.6,667.8 429.4,665.6 422.9,667.8 420.2,664.2" fill="#f2f2f6" filter="url(#blur05)"/>
<g clip-path="url(#ct8b)"><ellipse cx="432" cy="645" rx="16" ry="9" fill="#8890c8" opacity="0.3" filter="url(#blur3)"/></g>
<text x="28.2" y="608.6" font-size="6.8" fill="#1a1a2a" stroke="#1a1a2a" stroke-width="0.2" textLength="20.9" lengthAdjust="spacingAndGlyphs">100μm</text>
<path d="M23.8 610.6H52.8" stroke="#111" stroke-width="1.5"/>
<text x="28.2" y="681.6" font-size="6.8" fill="#1a1a2a" stroke="#1a1a2a" stroke-width="0.2" textLength="20.9" lengthAdjust="spacingAndGlyphs">100μm</text>
<path d="M23.8 683.8H52.8" stroke="#111" stroke-width="1.5"/>
<text x="101.7" y="608.6" font-size="6.8" fill="#1a1a2a" stroke="#1a1a2a" stroke-width="0.2" textLength="20.9" lengthAdjust="spacingAndGlyphs">250μm</text>
<path d="M97.3 610.6H126.3" stroke="#111" stroke-width="1.5"/>
<text x="101.7" y="681.6" font-size="6.8" fill="#1a1a2a" stroke="#1a1a2a" stroke-width="0.2" textLength="20.9" lengthAdjust="spacingAndGlyphs">250μm</text>
<path d="M97.3 683.8H126.3" stroke="#111" stroke-width="1.5"/>
<text x="201.2" y="608.6" font-size="6.8" fill="#1a1a2a" stroke="#1a1a2a" stroke-width="0.2" textLength="20.9" lengthAdjust="spacingAndGlyphs">100μm</text>
<path d="M196.8 610.6H225.8" stroke="#111" stroke-width="1.5"/>
<text x="201.2" y="681.6" font-size="6.8" fill="#1a1a2a" stroke="#1a1a2a" stroke-width="0.2" textLength="20.9" lengthAdjust="spacingAndGlyphs">100μm</text>
<path d="M196.8 683.8H225.8" stroke="#111" stroke-width="1.5"/>
<text x="275" y="608.6" font-size="6.8" fill="#1a1a2a" stroke="#1a1a2a" stroke-width="0.2" textLength="20.9" lengthAdjust="spacingAndGlyphs">250μm</text>
<path d="M270.6 610.6H299.6" stroke="#111" stroke-width="1.5"/>
<text x="275" y="681.6" font-size="6.8" fill="#1a1a2a" stroke="#1a1a2a" stroke-width="0.2" textLength="20.9" lengthAdjust="spacingAndGlyphs">250μm</text>
<path d="M270.6 683.8H299.6" stroke="#111" stroke-width="1.5"/>
<text x="353.7" y="608.6" font-size="6.8" fill="#1a1a2a" stroke="#1a1a2a" stroke-width="0.2" textLength="20.9" lengthAdjust="spacingAndGlyphs">100μm</text>
<path d="M349.3 610.6H378.3" stroke="#111" stroke-width="1.5"/>
<text x="353.7" y="681.6" font-size="6.8" fill="#1a1a2a" stroke="#1a1a2a" stroke-width="0.2" textLength="20.9" lengthAdjust="spacingAndGlyphs">100μm</text>
<path d="M349.3 683.8H378.3" stroke="#111" stroke-width="1.5"/>
<text x="427.2" y="608.6" font-size="6.8" fill="#1a1a2a" stroke="#1a1a2a" stroke-width="0.2" textLength="20.9" lengthAdjust="spacingAndGlyphs">250μm</text>
<path d="M422.8 610.6H451.8" stroke="#111" stroke-width="1.5"/>
<text x="427.2" y="681.6" font-size="6.8" fill="#1a1a2a" stroke="#1a1a2a" stroke-width="0.2" textLength="20.9" lengthAdjust="spacingAndGlyphs">250μm</text>
<path d="M422.8 683.8H451.8" stroke="#111" stroke-width="1.5"/>
<rect x="0" y="0" width="520" height="1.2" fill="#000"/>
<rect x="0" y="0" width="1.4" height="696" fill="#000"/>
<rect x="518.2" y="0" width="1.8" height="696" fill="#000"/>
<rect x="0" y="694.3" width="520" height="1.7" fill="#000"/></svg></body></html>
